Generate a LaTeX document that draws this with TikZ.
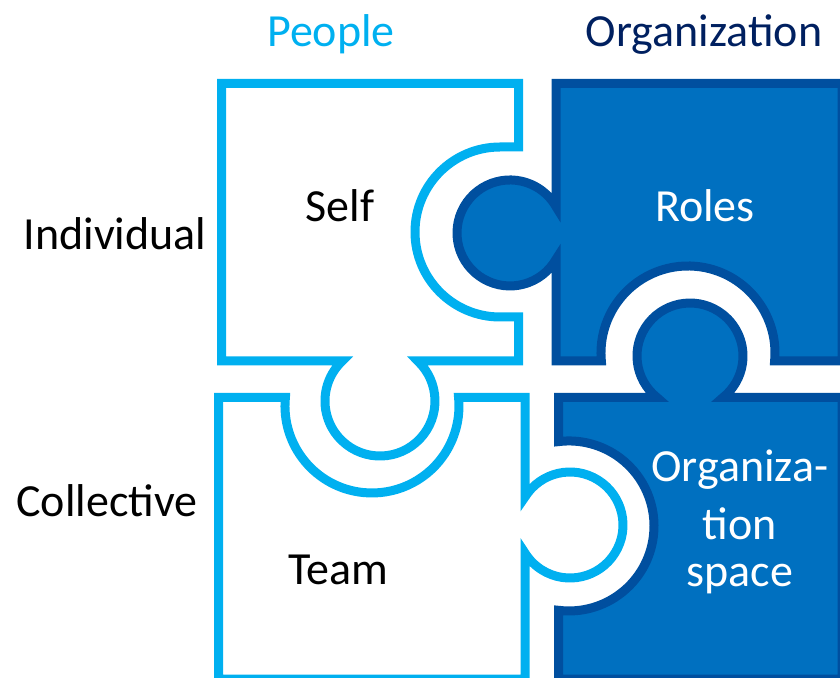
\documentclass[tikz,border=0pt]{standalone}
\usepackage{fontspec}
\setmainfont{Carlito}
\definecolor{pplblue}{HTML}{00B0F0}
\definecolor{orgfill}{HTML}{0070C0}
\definecolor{orgline}{HTML}{004F9F}
\definecolor{orgnavy}{HTML}{002060}
\tikzset{
  lightpiece/.style={draw=pplblue, fill=white, line width=9pt},
  darkpiece/.style={draw=orgline, fill=orgfill, line width=9pt},
  lbl/.style={font=\fontsize{46}{53}\selectfont, inner sep=0pt, anchor=base}
}
\begin{document}
\begin{tikzpicture}[x=1pt, y=1pt]
\useasboundingbox (0,0) rectangle (840,677);
% Self
\draw[lightpiece] (221.5,593.5) -- (518.5,593.5) -- (518.5,530) -- (500,530)
  arc[start angle=90, end angle=270, radius=85] -- (518.5,360) -- (518.5,316)
  -- (417.7,316) arc[start angle=46.7, end angle=-226.7, radius=55]
  -- (221.5,316) -- cycle;
% Roles
\draw[darkpiece] (556,593.5) -- (842,593.5) -- (842,316) -- (774.6,316)
  arc[start angle=-5.3, end angle=185.3, radius=87] -- (556,316) -- (556,417.7)
  arc[start angle=-29.8, end angle=-330.2, radius=53] -- cycle;
% Team
\draw[lightpiece] (218.5,279.5) -- (285.4,279.5)
  arc[start angle=174.4, end angle=365.6, radius=87] -- (525,279.5) -- (525,180)
  arc[start angle=148.1, end angle=-148.1, radius=53]
  -- (525,-2) -- (218.5,-2) -- cycle;
% Organization space
\draw[darkpiece] (558.5,279.5) -- (657,279.5)
  arc[start angle=-128.5, end angle=-411.5, radius=53]
  -- (842,279.5) -- (842,-2) -- (558.5,-2) -- (558.5,66.7)
  arc[start angle=-97.1, end angle=97.1, radius=85] -- cycle;
\node[lbl, text=pplblue] (people) at (331,630) {People};
\node[lbl, text=orgnavy] (organization) at (704,630) {Organization};
\node[lbl] (individual) at (115,427) {Individual};
\node[lbl] (collective) at (107,160) {Collective};
\node[lbl] (self) at (340,455) {Self};
\node[lbl, text=white] (roles) at (705,455) {Roles};
\node[lbl] (team) at (338,92) {Team};
\node[lbl, text=white] (orgspace1) at (740,195) {Organiza-};
\node[lbl, text=white] (orgspace2) at (740,137) {tion};
\node[lbl, text=white] (orgspace3) at (740,90) {space};
\end{tikzpicture}
\end{document}
